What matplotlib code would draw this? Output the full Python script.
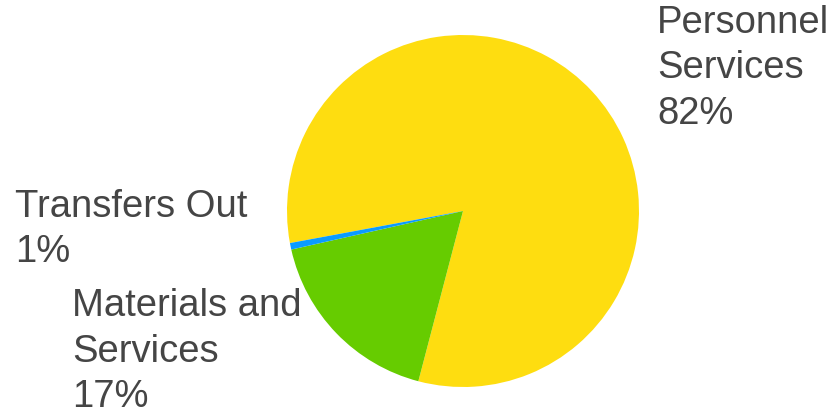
import matplotlib
matplotlib.use("Agg")
import matplotlib.pyplot as plt

# Data
categories = ["Personnel Services", "Materials and Services", "Transfers Out"]
values = [82.0, 17.4, 0.6]
label_lines = [["Personnel", "Services", "82%"],
               ["Materials and", "Services", "17%"],
               ["Transfers Out", "1%"]]
colors = ["#FEDD10", "#66CC00", "#0A9BFF"]

W, H = 831, 408
fig = plt.figure(figsize=(W / 100, H / 100), dpi=100)
fig.patch.set_facecolor("white")

cx, cy, r = 463, 211, 176
ax = fig.add_axes([(cx - r) / W, (H - cy - r) / H, 2 * r / W, 2 * r / H])
ax.pie(values, colors=colors, startangle=190.5, counterclock=False,
       wedgeprops=dict(linewidth=0, antialiased=True), radius=1.0)
ax.set_xlim(-1, 1)
ax.set_ylim(-1, 1)
ax.set_aspect("equal")
ax.axis("off")

# label anchor positions (pixels: left x, first-line baseline y)
anchors = [(657, 33), (72, 316), (15, 217)]
line_step = 45.5
for lines, (x, y) in zip(label_lines, anchors):
    for i, t in enumerate(lines):
        fig.text(x / W, 1 - (y + i * line_step) / H, t,
                 fontsize=27.5, family=["Liberation Sans", "DejaVu Sans"],
                 color="#454545", ha="left", va="baseline")

fig.savefig("out.png", dpi=100, facecolor="white")
